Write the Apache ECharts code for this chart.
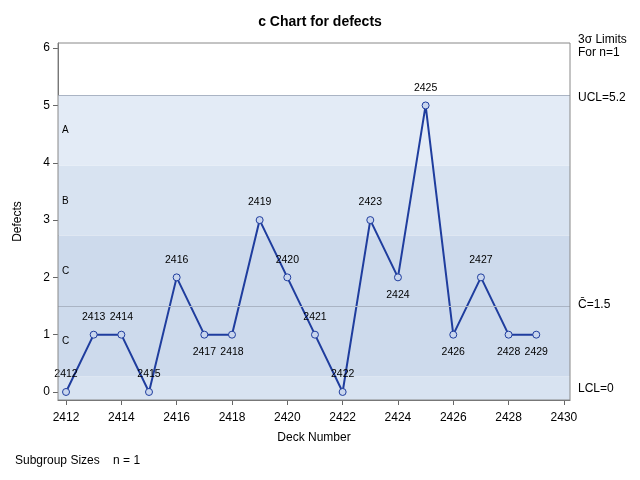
<!DOCTYPE html><html><head><meta charset="utf-8">
<script src="https://cdn.jsdelivr.net/npm/echarts@6/dist/echarts.min.js"></script>
<style>body{margin:0}#c{width:640px;height:480px}</style></head><body><div id="c"></div>
<script>
const decks=[2412,2413,2414,2415,2416,2417,2418,2419,2420,2421,2422,2423,2424,2425,2426,2427,2428,2429];
const defects=[0,1,1,0,2,1,1,3,2,1,0,3,2,5,1,2,1,1];
const labelBelow=[2417,2418,2424,2426,2428,2429];
const xTicks=[2412,2414,2416,2418,2420,2422,2424,2426,2428,2430];
const yTicks=[0,1,2,3,4,5,6];
const UCL=5.174, CL=1.5, LCL=0, sigma=1.2247;
const ch=echarts.init(document.getElementById('c'));
const f='Arial, "Liberation Sans", sans-serif';
ch.setOption({
 animation:false,
 title:{text:'c Chart for defects',left:'center',top:10,textStyle:{fontFamily:f,fontSize:14,fontWeight:'bold',color:'#000'}},
 grid:{left:58,right:70,top:43,bottom:80},
 xAxis:{type:'value',min:2411.71,max:2430.22,name:'Deck Number',nameLocation:'middle',nameGap:32,
  nameTextStyle:{fontFamily:f,fontSize:12,color:'#000'},
  axisLabel:{fontFamily:f,fontSize:12,color:'#000',margin:12,customValues:xTicks,formatter:v=>String(v)},
  axisTick:{customValues:xTicks},
  axisLine:{onZero:false,lineStyle:{color:'#666'}},splitLine:{show:false}},
 yAxis:{type:'value',min:-0.14,max:6.09,name:'Defects',nameLocation:'middle',nameGap:34,
  nameTextStyle:{fontFamily:f,fontSize:12,color:'#000'},
  axisLabel:{fontFamily:f,fontSize:12,color:'#000',customValues:yTicks},
  axisTick:{customValues:yTicks},
  axisLine:{show:true,lineStyle:{color:'#666'}},splitLine:{show:false}},
 graphic:[
  {type:'rect',shape:{x:58,y:43,width:512,height:357},style:{fill:'none',stroke:'#888'},z:100},
  {type:'text',left:578,top:33,style:{text:'3σ Limits\nFor n=1',font:'12px '+f,fill:'#000',lineHeight:13}},
  {type:'text',left:578,top:92,style:{text:'UCL=5.2',font:'12px '+f,fill:'#000'}},
  {type:'text',left:578,top:299,style:{text:'C\u0304=1.5',font:'12px '+f,fill:'#000'}},
  {type:'text',left:578,top:383,style:{text:'LCL=0',font:'12px '+f,fill:'#000'}},
  {type:'text',left:15,top:455,style:{text:'Subgroup Sizes    n = 1',font:'12px '+f,fill:'#000'}}
 ],
 series:[{type:'line',data:decks.map((d,i)=>({value:[d,defects[i]],label:{position:labelBelow.includes(d)?'bottom':'top',distance:8}})),
  symbol:'circle',symbolSize:7,
  lineStyle:{color:'#1F3D9E',width:2},
  itemStyle:{color:'#C9D6EE',borderColor:'#1F3D9E',borderWidth:1},
  label:{show:true,formatter:p=>p.value[0],fontFamily:f,fontSize:10.5,color:'#000'},
  markArea:{silent:true,label:{position:'insideLeft',fontFamily:f,fontSize:10,color:'#000',distance:4},data:[
   [{yAxis:-0.14,itemStyle:{color:'#D8E3F1'}},{yAxis:CL-sigma}],
   [{yAxis:CL-sigma,name:'C',itemStyle:{color:'#CDDAEC'}},{yAxis:CL}],
   [{yAxis:CL,name:'C',itemStyle:{color:'#CDDAEC'}},{yAxis:CL+sigma}],
   [{yAxis:CL+sigma,name:'B',itemStyle:{color:'#D8E3F1'}},{yAxis:CL+2*sigma}],
   [{yAxis:CL+2*sigma,name:'A',itemStyle:{color:'#E3EBF6'}},{yAxis:UCL}]
  ]},
  markLine:{silent:true,symbol:'none',label:{show:false},lineStyle:{color:'#AAB4C4',width:1,type:'solid'},
   data:[{yAxis:UCL},{yAxis:CL}]}
 }]
});
</script></body></html>
